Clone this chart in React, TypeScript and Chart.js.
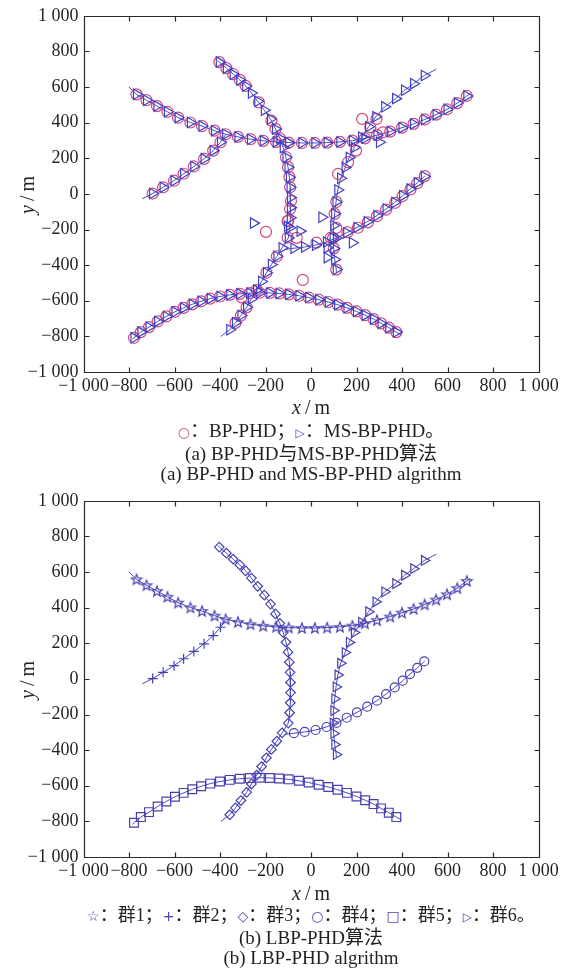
import React, { useEffect, useRef } from "react";
import { Chart, registerables } from "chart.js";
Chart.register(...registerables);

type Pt = [number, number];

const axisTicks = [-1000, -800, -600, -400, -200, 0, 200, 400, 600, 800, 1000];

// ---- true tracks / group markers ----
const group1Stars: Pt[] = [
  [-767, 559], [-723, 526], [-677, 493], [-631, 461], [-584, 428], [-530, 401], [-479, 381],
  [-424, 355], [-375, 335], [-321, 320], [-266, 307], [-210, 298], [-153, 292], [-98, 288],
  [-40, 286], [17, 286], [71, 288], [127, 292], [182, 299], [237, 312], [290, 330], [348, 350],
  [400, 372], [451, 393], [500, 418], [550, 445], [598, 475], [643, 510], [685, 550],
];
const group1Ends: Pt[] = [[-800, 600], [700, 565]];

const group2Plus: Pt[] = [
  [-696, 2], [-650, 37], [-602, 74], [-560, 113], [-515, 154], [-470, 197], [-430, 243], [-398, 290],
];
const group2Ends: Pt[] = [[-742, -28], [-375, 333]];

const group3Diamonds: Pt[] = [
  [-403, 740], [-372, 706], [-342, 672], [-313, 640], [-287, 606], [-262, 566], [-234, 520],
  [-205, 470], [-178, 420], [-156, 365], [-137, 312], [-122, 260], [-110, 206], [-101, 150],
  [-95, 94], [-92, 37], [-90, -20], [-90, -77], [-91, -134], [-94, -190], [-100, -248],
  [-127, -303], [-150, -350], [-174, -396], [-196, -443], [-217, -492], [-239, -540],
  [-262, -590], [-283, -637], [-308, -683], [-332, -724], [-357, -763],
];
const group3Ends: Pt[] = [[-410, 748], [-396, -800]];

const group4Circles: Pt[] = [
  [-75, -305], [-28, -298], [20, -287], [68, -270], [112, -247], [157, -218], [202, -188],
  [247, -156], [290, -122], [330, -85], [368, -48], [403, -10], [435, 27], [467, 62], [498, 98],
];
const group4Ends: Pt[] = [[-115, -312], [500, 100]];

const group5Squares: Pt[] = [
  [-778, -808], [-748, -776], [-712, -748], [-674, -716], [-636, -688], [-598, -662], [-560, -640],
  [-522, -620], [-483, -603], [-443, -588], [-400, -576], [-357, -567], [-313, -561], [-269, -557],
  [-225, -555], [-181, -556], [-140, -559], [-98, -564], [-53, -572], [-10, -582], [34, -594],
  [76, -607], [117, -622], [158, -640], [200, -660], [238, -681], [275, -703], [308, -727],
  [342, -751], [375, -776],
];
const group5Ends: Pt[] = [[-785, -815], [398, -792]];

const group6Triangles: Pt[] = [
  [111, -425], [104, -368], [100, -306], [97, -248], [100, -178], [104, -112], [110, -45],
  [118, 22], [130, 88], [150, 148], [168, 205], [190, 260], [222, 318], [253, 377], [285, 433],
  [324, 489], [372, 535], [411, 582], [451, 619], [498, 665],
];
const group6Ends: Pt[] = [[112, -440], [551, 700]];

// ---- panel a extras (BP-PHD circles, MS-BP-PHD triangles) ----
const bpTrack3: Pt[] = [
  [-403, 740], [-372, 706], [-342, 672], [-313, 640], [-287, 606], [-229, 514], [-174, 411],
  [-156, 365], [-137, 312], [-110, 206], [-101, 150], [-95, 94], [-92, 37], [-88, -40],
  [-92, -85], [-100, -150], [-103, -245], [-150, -350], [-196, -443], [-239, -540],
  [-283, -637], [-308, -683], [-332, -724],
];
const bpTrack4: Pt[] = [
  [24, -274], [87, -246], [111, -191], [160, -215], [206, -190], [250, -160], [290, -125],
  [330, -88], [370, -50], [403, -12], [437, 25], [467, 60], [500, 100],
];
const bpTrack6: Pt[] = [
  [111, -425], [100, -306], [97, -248], [104, -112], [111, -45], [119, 112], [163, 178],
  [198, 243], [261, 374], [225, 421], [288, 421], [316, 346],
];
const bpOutliers: Pt[] = [[-198, -213], [-63, -247], [-36, -483], [-103, -153], [-304, -581]];
const msOutliers: Pt[] = [
  [-253, -164], [48, -131], [-103, -181], [-48, -209], [182, -274], [71, -358], [301, 290], [71, -302],
];

const TRACK = "#3f50c4";
const MARK_B = "#4a3fb0";
const TRI_A = "#4040c4";
const CIRC_A = "#d2467f";
const TEXT = "#231f20";
const SERIF = '"Liberation Serif", "Noto Sans CJK SC", serif';

function fmt(v: number): string {
  const a = Math.abs(v);
  const s = a >= 1000 ? `${Math.floor(a / 1000)} ${String(a % 1000).padStart(3, "0")}` : String(a);
  return v < 0 ? "\u2212" + s : s;
}

const toXY = (pts: Pt[]) => pts.map(([x, y]) => ({ x, y }));

const lineSet = (pts: Pt[]) => ({
  data: toXY(pts),
  showLine: true,
  borderColor: TRACK,
  borderWidth: 1,
  pointRadius: 0,
  tension: 0,
  fill: false,
});

const markSet = (pts: Pt[], style: any, color: string, r: number, rot = 0) => ({
  data: toXY(pts),
  showLine: false,
  pointStyle: style,
  pointRadius: r,
  pointRotation: rot,
  pointBorderColor: color,
  pointBackgroundColor: "rgba(0,0,0,0)",
  pointBorderWidth: 1.2,
  borderColor: color,
  backgroundColor: "rgba(0,0,0,0)",
});

function makePentagram(color: string, outer: number): HTMLCanvasElement {
  const size = Math.ceil(outer * 2 + 3);
  const c = document.createElement("canvas");
  c.width = size;
  c.height = size;
  const g = c.getContext("2d")!;
  const cx = size / 2, cy = size / 2 + 0.5, inner = outer * 0.42;
  g.strokeStyle = color;
  g.lineWidth = 1.2;
  g.beginPath();
  for (let i = 0; i < 10; i++) {
    const r = i % 2 === 0 ? outer : inner;
    const ang = -Math.PI / 2 + (i * Math.PI) / 5;
    const px = cx + r * Math.cos(ang), py = cy + r * Math.sin(ang);
    if (i === 0) g.moveTo(px, py); else g.lineTo(px, py);
  }
  g.closePath();
  g.stroke();
  return c;
}

const framePlugin = {
  id: "frameTicks",
  afterDraw(chart: any) {
    const { ctx, chartArea, scales } = chart;
    const L = Math.round(chartArea.left) + 0.5, R = Math.round(chartArea.right) + 0.5;
    const T = Math.round(chartArea.top) + 0.5, B = Math.round(chartArea.bottom) + 0.5;
    ctx.save();
    ctx.strokeStyle = "#2b2b2b";
    ctx.lineWidth = 1.2;
    ctx.beginPath();
    ctx.rect(L, T, R - L, B - T);
    for (const v of axisTicks) {
      const px = Math.round(scales.x.getPixelForValue(v)) + 0.5;
      ctx.moveTo(px, B); ctx.lineTo(px, B - 5);
      ctx.moveTo(px, T); ctx.lineTo(px, T + 5);
      const py = Math.round(scales.y.getPixelForValue(v)) + 0.5;
      ctx.moveTo(L, py); ctx.lineTo(L + 5, py);
      ctx.moveTo(R, py); ctx.lineTo(R - 5, py);
    }
    ctx.stroke();
    ctx.restore();
  },
};

const CANVAS_H = 400;
const PLOT_TOP = 15;
const PLOT_H = 357;

function build(canvas: HTMLCanvasElement, datasets: any[]) {
  const tickFont = { family: SERIF, size: 18 };
  return new Chart(canvas, {
    type: "scatter",
    data: { datasets },
    options: {
      responsive: false,
      animation: false,
      events: [],
      layout: { padding: { left: 0, right: 25.5, top: PLOT_TOP, bottom: 0 } },
      plugins: { legend: { display: false }, tooltip: { enabled: false } },
      scales: {
        x: {
          type: "linear",
          min: -1000,
          max: 1000,
          afterBuildTicks: (s: any) => { s.ticks = axisTicks.map((v) => ({ value: v })); },
          grid: { display: false, drawTicks: false },
          border: { display: false },
          ticks: {
            autoSkip: false, maxRotation: 0, minRotation: 0, padding: 3,
            color: TEXT, font: tickFont, callback: (v: any) => fmt(Number(v)),
          },
          afterFit: (s: any) => { s.height = CANVAS_H - PLOT_TOP - PLOT_H; },
        },
        y: {
          type: "linear",
          min: -1000,
          max: 1000,
          afterBuildTicks: (s: any) => { s.ticks = axisTicks.map((v) => ({ value: v })); },
          grid: { display: false, drawTicks: false },
          border: { display: false },
          ticks: {
            autoSkip: false, padding: 5,
            color: TEXT, font: tickFont, callback: (v: any) => fmt(Number(v)),
          },
          afterFit: (s: any) => { s.width = 83.5; },
        },
      },
    } as any,
    plugins: [framePlugin],
  });
}

const withEnds = (pts: Pt[], ends: Pt[]): Pt[] => [ends[0], ...pts, ends[1]];

function trackLines() {
  return [
    lineSet(withEnds(group1Stars, group1Ends)),
    lineSet(withEnds(group2Plus, group2Ends)),
    lineSet(withEnds(group3Diamonds, group3Ends)),
    lineSet(withEnds(group4Circles, group4Ends)),
    lineSet(withEnds(group5Squares, group5Ends)),
    lineSet(withEnds(group6Triangles, group6Ends)),
  ];
}

function TextLine(props: { y: number; children: any; size?: number; cx?: number }) {
  const cx = props.cx ?? 311;
  return (
    <div
      style={{
        position: "absolute", left: cx - 282, width: 564, top: props.y - 12, height: 24,
        lineHeight: "24px", textAlign: "center", fontSize: props.size ?? 19, whiteSpace: "nowrap",
      }}
    >
      {props.children}
    </div>
  );
}

function YLabel(props: { y: number }) {
  return (
    <div
      style={{
        position: "absolute", left: 27, top: props.y, fontSize: 20, whiteSpace: "nowrap",
        transform: "translate(-50%, -50%) rotate(-90deg)", lineHeight: "22px",
      }}
    >
      <i>y</i>{"\u2009/\u2009m"}
    </div>
  );
}

export default function App() {
  const refA = useRef<HTMLCanvasElement>(null);
  const refB = useRef<HTMLCanvasElement>(null);

  useEffect(() => {
    const star = makePentagram(MARK_B, 5.5);
    const chartA = build(refA.current!, [
      markSet(group1Stars, "triangle", TRI_A, 6, 90),
      markSet(group2Plus, "triangle", TRI_A, 6, 90),
      markSet(group3Diamonds, "triangle", TRI_A, 6, 90),
      markSet(group4Circles, "triangle", TRI_A, 6, 90),
      markSet(group5Squares, "triangle", TRI_A, 6, 90),
      markSet(group6Triangles, "triangle", TRI_A, 6, 90),
      markSet(msOutliers, "triangle", TRI_A, 6, 90),
      markSet(group1Stars, "circle", CIRC_A, 5.5),
      markSet(group2Plus, "circle", CIRC_A, 5.5),
      markSet(bpTrack3, "circle", CIRC_A, 5.5),
      markSet(bpTrack4, "circle", CIRC_A, 5.5),
      markSet(group5Squares, "circle", CIRC_A, 5.5),
      markSet(bpTrack6, "circle", CIRC_A, 5.5),
      markSet(bpOutliers, "circle", CIRC_A, 5.5),
      ...trackLines(),
    ]);
    const chartB = build(refB.current!, [
      markSet(group1Stars, star, MARK_B, 5.5),
      markSet(group2Plus, "cross", MARK_B, 5),
      markSet(group3Diamonds, "rectRot", MARK_B, 4.8),
      markSet(group4Circles, "circle", MARK_B, 4.5),
      markSet(group5Squares, "rect", MARK_B, 6.2),
      markSet(group6Triangles, "triangle", MARK_B, 5.6, 90),
      ...trackLines(),
    ]);
    return () => {
      chartA.destroy();
      chartB.destroy();
    };
  }, []);

  const sym = (c: string, s: string, size = 14) => (
    <span style={{ color: c, fontSize: size, fontFamily: '"DejaVu Sans", sans-serif' }}>{s}</span>
  );

  return (
    <div
      style={{
        position: "absolute", left: 0, top: 0, width: 564, height: 977, background: "#ffffff",
        fontFamily: SERIF, color: TEXT, overflow: "hidden",
      }}
    >
      <canvas ref={refA} width={564} height={CANVAS_H} style={{ position: "absolute", left: 0, top: 0, width: 564, height: CANVAS_H }} />
      <canvas ref={refB} width={564} height={CANVAS_H} style={{ position: "absolute", left: 0, top: 485, width: 564, height: CANVAS_H }} />

      <YLabel y={195} />
      <TextLine y={407} size={20}><i>x</i>{"\u2009/\u2009m"}</TextLine>
      <TextLine y={431}>
        {sym(CIRC_A, "○")}：BP-PHD；{sym(TRI_A, "▷", 12)}：MS-BP-PHD。
      </TextLine>
      <TextLine y={454}>(a) BP-PHD与MS-BP-PHD算法</TextLine>
      <TextLine y={474}>(a) BP-PHD and MS-BP-PHD algrithm</TextLine>

      <YLabel y={680} />
      <TextLine y={893} size={20}><i>x</i>{"\u2009/\u2009m"}</TextLine>
      <TextLine y={915} size={18}>
        {sym(MARK_B, "☆")}：群1；{sym(MARK_B, "+")}：群2；{sym(MARK_B, "◇")}：群3；{sym(MARK_B, "○")}：群4；{sym(MARK_B, "□")}：群5；{sym(MARK_B, "▷", 12)}：群6。
      </TextLine>
      <TextLine y={938}>(b) LBP-PHD算法</TextLine>
      <TextLine y={958}>(b) LBP-PHD algrithm</TextLine>
    </div>
  );
}
